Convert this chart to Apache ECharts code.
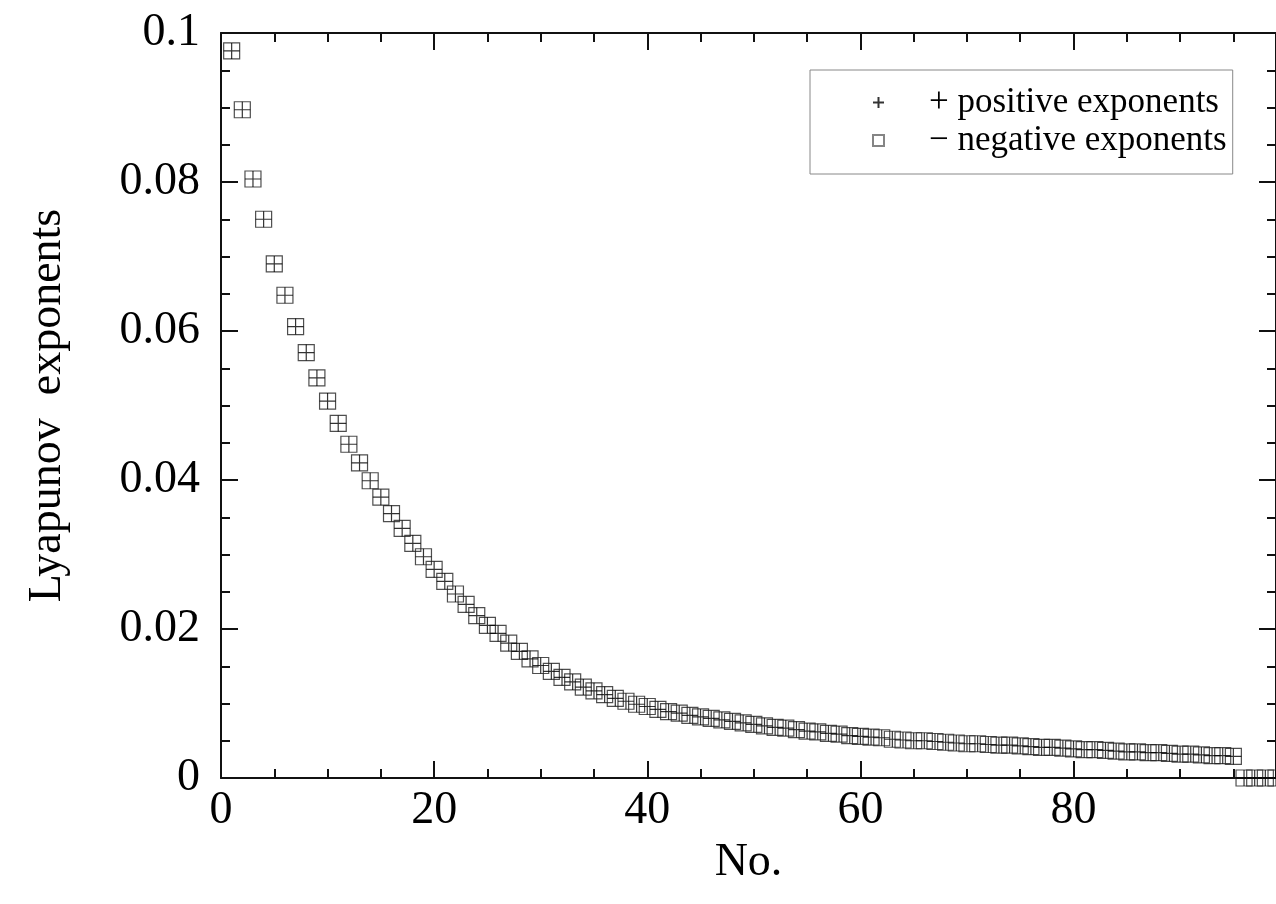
<!DOCTYPE html>
<html>
<head>
<meta charset="utf-8">
<title>Lyapunov exponents</title>
<script src="https://cdn.jsdelivr.net/npm/echarts@6/dist/echarts.min.js"></script>
<style>
  html, body { margin: 0; padding: 0; background: #fff; }
  #chart { width: 1276px; height: 904px; }
</style>
</head>
<body>
<div id="chart"></div>
<script>
// Lyapunov spectrum: exponent number 1..99, positive exponents and |negative exponents|
const positiveExponents = [
  0.0976, 0.0897, 0.0804, 0.0750, 0.0690, 0.0648, 0.0606, 0.0571, 0.0537, 0.0506,
  0.0476, 0.0448, 0.0423, 0.0399, 0.0377, 0.0355, 0.0335, 0.0315, 0.0297, 0.0280,
  0.0264, 0.0247, 0.0233, 0.0218, 0.0205, 0.0194, 0.0181, 0.0170, 0.0160, 0.0151,
  0.0143, 0.0135, 0.0129, 0.0122, 0.0117, 0.0112, 0.0107, 0.0103, 0.0099, 0.0096,
  0.0092, 0.0089, 0.0087, 0.0084, 0.0082, 0.0080, 0.0078, 0.0076, 0.0074, 0.0072,
  0.0070, 0.0068, 0.0067, 0.0065, 0.0063, 0.0062, 0.0060, 0.0059, 0.0057, 0.0056,
  0.0055, 0.0054, 0.0052, 0.0051, 0.0050, 0.0050, 0.0049, 0.0048, 0.0047, 0.0046,
  0.0046, 0.0045, 0.0044, 0.0044, 0.0043, 0.0042, 0.0041, 0.0041, 0.0040, 0.0039,
  0.0038, 0.0038, 0.0037, 0.0036, 0.0035, 0.0035, 0.0034, 0.0034, 0.0033, 0.0032,
  0.0032, 0.0031, 0.0030, 0.0030, 0.0029, 0, 0, 0, 0
];
const negativeExponents = [
  0.0976, 0.0897, 0.0804, 0.0750, 0.0690, 0.0648, 0.0606, 0.0571, 0.0537, 0.0506,
  0.0476, 0.0448, 0.0423, 0.0399, 0.0377, 0.0355, 0.0335, 0.0315, 0.0297, 0.0280,
  0.0264, 0.0247, 0.0233, 0.0218, 0.0205, 0.0194, 0.0181, 0.0170, 0.0160, 0.0151,
  0.0143, 0.0135, 0.0129, 0.0122, 0.0117, 0.0112, 0.0107, 0.0103, 0.0099, 0.0096,
  0.0092, 0.0089, 0.0087, 0.0084, 0.0082, 0.0080, 0.0078, 0.0076, 0.0074, 0.0072,
  0.0070, 0.0068, 0.0067, 0.0065, 0.0063, 0.0062, 0.0060, 0.0059, 0.0057, 0.0056,
  0.0055, 0.0054, 0.0052, 0.0051, 0.0050, 0.0050, 0.0049, 0.0048, 0.0047, 0.0046,
  0.0046, 0.0045, 0.0044, 0.0044, 0.0043, 0.0042, 0.0041, 0.0041, 0.0040, 0.0039,
  0.0038, 0.0038, 0.0037, 0.0036, 0.0035, 0.0035, 0.0034, 0.0034, 0.0033, 0.0032,
  0.0032, 0.0031, 0.0030, 0.0030, 0.0029, 0, 0, 0, 0
];
const seriesNames = ['+ positive exponents', '\u2212 negative exponents'];
const xName = 'No.';
const yName = 'Lyapunov  exponents';

const FONT = '"Liberation Serif", "Times New Roman", serif';
const INK = '#111';

function toPoints(values) {
  return values.map((v, i) => [i + 1, v]);
}

const lineStyle = { color: INK, width: 2 };

// major (every 20) and minor (every 5) tick rows are separate axes so the
// minor ticks stay on multiples of 5 up to the 99 end of the range
function xAxisDef(position, major, showLabel) {
  return {
    type: 'value', position: position, min: 0, max: 99,
    interval: major ? 20 : 5,
    axisLine: { show: major, onZero: false, lineStyle: lineStyle },
    axisTick: { show: true, inside: true, length: major ? 17 : 9, lineStyle: { color: INK, width: 2 } },
    axisLabel: {
      show: showLabel, showMaxLabel: false, margin: 10,
      fontFamily: FONT, fontSize: 46, color: '#000'
    },
    splitLine: { show: false },
    name: showLabel ? xName : '', nameLocation: 'middle', nameGap: 62,
    nameTextStyle: { fontFamily: FONT, fontSize: 46, color: '#000' }
  };
}

function yAxisDef(position, showLabel) {
  return {
    type: 'value', position: position, min: 0, max: 0.1, interval: 0.02,
    axisLine: { show: true, onZero: false, lineStyle: lineStyle },
    axisTick: { show: true, inside: true, length: 17, lineStyle: { color: INK, width: 2 } },
    minorTick: { show: true, splitNumber: 4, length: 9, lineStyle: { color: INK, width: 2 } },
    axisLabel: { show: showLabel, margin: 21, fontFamily: FONT, fontSize: 46, color: '#000' },
    splitLine: { show: false },
    name: showLabel ? yName : '', nameLocation: 'middle', nameGap: 150,
    nameTextStyle: { fontFamily: FONT, fontSize: 46, color: '#000' }
  };
}

const chart = echarts.init(document.getElementById('chart'), null, { renderer: 'canvas' });

chart.setOption({
  backgroundColor: '#fff',
  animation: false,
  grid: { left: 221, top: 33, right: -1, bottom: 126, containLabel: false },
  xAxis: [
    xAxisDef('bottom', true, true),
    xAxisDef('bottom', false, false),
    xAxisDef('top', true, false),
    xAxisDef('top', false, false)
  ],
  yAxis: [
    yAxisDef('left', true),
    yAxisDef('right', false)
  ],
  legend: {
    orient: 'vertical', left: 810, top: 70,
    padding: [15, 6, 16, 62], itemGap: 3,
    itemWidth: 11, itemHeight: 11,
    borderColor: '#888', borderWidth: 1,
    textStyle: { fontFamily: FONT, fontSize: 35, color: '#000', padding: [0, 0, 0, 40] },
    data: [
      { name: seriesNames[0] },
      { name: seriesNames[1], itemStyle: { borderColor: '#666' } }
    ]
  },
  series: [
    {
      name: seriesNames[0], type: 'scatter', clip: false,
      xAxisIndex: 0, yAxisIndex: 0,
      symbol: 'path://M0,8H16M8,0V16', symbolSize: 16,
      itemStyle: { color: 'rgba(0,0,0,0)', borderColor: '#000', borderWidth: 1.2 },
      data: toPoints(positiveExponents), z: 3
    },
    {
      name: seriesNames[1], type: 'scatter', clip: false,
      xAxisIndex: 0, yAxisIndex: 0,
      symbol: 'rect', symbolSize: 16,
      itemStyle: { color: 'rgba(0,0,0,0)', borderColor: '#222', borderWidth: 1.2 },
      data: toPoints(negativeExponents), z: 2
    }
  ]
});
</script>
</body>
</html>
